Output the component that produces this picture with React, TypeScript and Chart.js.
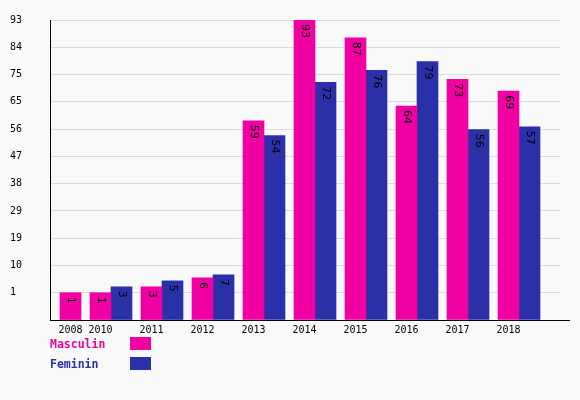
import React, { useEffect, useRef } from "react";
import { Chart, registerables } from "chart.js";

Chart.register(...registerables);

const years = ["2008", "2010", "2011", "2012", "2013", "2014", "2015", "2016", "2017", "2018"];
const masculin: (number | null)[] = [1, 1, 3, 6, 59, 93, 87, 64, 73, 69];
const feminin: (number | null)[] = [null, 3, 5, 7, 54, 72, 76, 79, 56, 57];
const seriesNames = ["Masculin", "Feminin"];
const seriesColors = ["#f000a2", "#2a30a8"];
const yTickCount = 10;

const BG = "#f9f9f9";

export default function App() {
  const ref = useRef<HTMLCanvasElement>(null);

  useEffect(() => {
    document.body.style.margin = "0";
    document.body.style.background = BG;
    const canvas = ref.current;
    if (!canvas) return;

    const series = [masculin, feminin];
    // Sequential bar layout (bar = 1 unit, gap between groups)
    const GAP = 9 / 21;
    const LEAD = 10 / 21;
    const TRAIL = 20 / 21;
    let pos = LEAD;
    const xs: (number | null)[][] = [[], []];
    const tickPos: number[] = [];
    years.forEach((_, i) => {
      let first: number | null = null;
      series.forEach((s, k) => {
        const v = s[i];
        if (v != null) {
          xs[k][i] = pos + 0.5;
          if (first == null) first = pos + 0.5;
          pos += 1;
        } else {
          xs[k][i] = null;
        }
      });
      tickPos.push(first as unknown as number);
      pos += GAP;
    });
    const xMax = pos - GAP + TRAIL;

    const all = series.flat().filter((v) => v != null) as number[];
    const dMax = Math.max(...all);
    const dMin = Math.min(...all);
    const step = (dMax - dMin) / yTickCount;
    const yMin = dMin - step;

    const datasets = series.map((s, k) => ({
      label: seriesNames[k],
      data: s
        .map((v, i) => (v == null ? null : { x: xs[k][i] as number, y: v }))
        .filter((d) => d != null) as { x: number; y: number }[],
      backgroundColor: seriesColors[k],
      borderWidth: 0,
      base: yMin,
      grouped: false,
      barThickness: 21,
    }));

    const labelPlugin = {
      id: "valueLabels",
      afterDatasetsDraw(chart: any) {
        const ctx = chart.ctx;
        ctx.save();
        ctx.font = "11px 'DejaVu Sans'";
        ctx.fillStyle = "#000";
        ctx.textAlign = "left";
        ctx.textBaseline = "middle";
        chart.data.datasets.forEach((ds: any, di: number) => {
          const meta = chart.getDatasetMeta(di);
          meta.data.forEach((el: any, j: number) => {
            const v = ds.data[j].y;
            ctx.save();
            ctx.translate(el.x, el.y + 4);
            ctx.rotate(Math.PI / 2);
            ctx.fillText(String(v), 0, 0);
            ctx.restore();
          });
        });
        ctx.restore();
      },
    };

    const axisPlugin = {
      id: "axisLine",
      afterDraw(chart: any) {
        const ctx = chart.ctx;
        const a = chart.chartArea;
        ctx.save();
        ctx.strokeStyle = "#000";
        ctx.lineWidth = 1;
        ctx.beginPath();
        const yb = Math.round(a.bottom) + 0.5;
        ctx.moveTo(a.left, yb);
        ctx.lineTo(a.right + 10, yb);
        ctx.stroke();
        ctx.restore();
      },
    };

    const chart = new Chart(canvas, {
      type: "bar",
      data: { datasets: datasets as any },
      options: {
        animation: false,
        responsive: true,
        maintainAspectRatio: false,
        layout: { padding: { left: 10, right: 20, top: 20, bottom: 0 } },
        plugins: {
          legend: { display: false },
          tooltip: { enabled: false },
        },
        scales: {
          x: {
            type: "linear",
            offset: false,
            min: 0,
            max: xMax,
            grid: { display: false, drawTicks: false },
            border: { display: false },
            afterBuildTicks: (scale: any) => {
              scale.ticks = tickPos.map((v) => ({ value: v }));
            },
            afterFit: (scale: any) => {
              scale.height = 80;
            },
            ticks: {
              autoSkip: false,
              maxRotation: 0,
              padding: 4,
              color: "#000",
              font: { family: "'DejaVu Sans Mono'", size: 10 },
              callback: (_v: any, i: number) => years[i],
            },
          },
          y: {
            type: "linear",
            min: yMin,
            max: dMax,
            grid: { color: "#dcdcdc", drawTicks: false },
            border: { color: "#000", width: 1 },
            afterBuildTicks: (scale: any) => {
              const t = [];
              for (let i = 0; i <= yTickCount + 1; i++) t.push({ value: yMin + i * step });
              scale.ticks = t;
            },
            afterFit: (scale: any) => {
              scale.width = 40;
            },
            ticks: {
              crossAlign: "far",
              color: "#000",
              font: { family: "'DejaVu Sans Mono'", size: 10 },
              callback: (v: any, i: number) => (i === 0 ? "" : String(Math.round(v))),
            },
          },
        },
      },
      plugins: [labelPlugin, axisPlugin],
    });
    return () => chart.destroy();
  }, []);

  const legendFont = "bold 11.5px 'DejaVu Sans Mono'";
  return (
    <div style={{ position: "relative", width: 580, height: 400, background: BG }}>
      <div style={{ position: "absolute", left: 0, top: 0, width: 580, height: 400 }}>
        <canvas ref={ref} />
      </div>
      {seriesNames.map((n, k) => (
        <div key={n}>
          <div
            style={{
              position: "absolute",
              left: 50,
              top: 337 + k * 20,
              height: 14,
              lineHeight: "14px",
              font: legendFont,
              color: seriesColors[k],
            }}
          >
            {n}
          </div>
          <div
            style={{
              position: "absolute",
              left: 130,
              top: 337 + k * 20,
              width: 21,
              height: 13,
              background: seriesColors[k],
            }}
          />
        </div>
      ))}
    </div>
  );
}
